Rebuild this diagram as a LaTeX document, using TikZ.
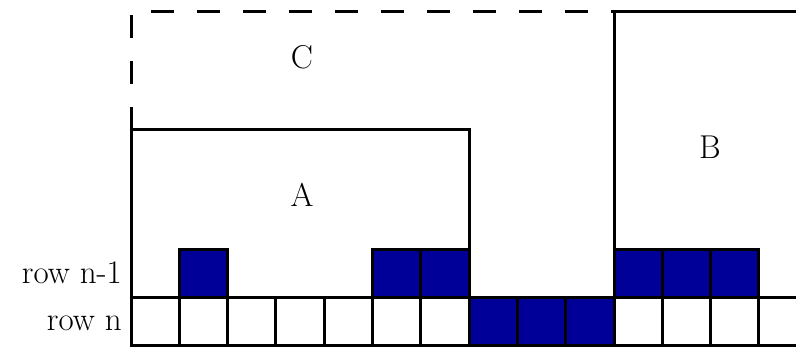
\documentclass[tikz,border=0pt]{standalone}
\definecolor{cellblue}{RGB}{0,0,153}
\tikzset{
  wall/.style={draw=black, line width=3pt},
  cellbox/.style={draw=black, line width=3pt},
  filled/.style={cellbox, fill=cellblue},
  lbl/.style={font=\fontsize{33}{38}\selectfont, inner sep=0pt}
}
\begin{document}
\begin{tikzpicture}[x=1pt,y=1pt]
  \useasboundingbox (0,0) rectangle (796,347);
  \clip (0,0) rectangle (796,347);
  % grid geometry: column width, left edge
  \def\cw{48.3}
  \def\xo{131}
  % row n: fourteen outlined cells, three of them filled
  \foreach \i in {0,...,13}{
    \draw[cellbox] ({\xo+\i*\cw},1.5) rectangle ({\xo+(\i+1)*\cw},49);
  }
  \foreach \i in {7,8,9}{
    \draw[filled] ({\xo+\i*\cw},1.5) rectangle ({\xo+(\i+1)*\cw},49);
  }
  % row n-1: filled cells only
  \foreach \i in {1,5,6,10,11,12}{
    \draw[filled] ({\xo+\i*\cw},49) rectangle ({\xo+(\i+1)*\cw},97);
  }
  % blocks A and B
  \draw[wall] (\xo,1.5) -- (\xo,217) -- ({\xo+7*\cw},217) -- ({\xo+7*\cw},49);
  \draw[wall] ({\xo+10*\cw},49) -- ({\xo+10*\cw},335) -- (820,335);
  % block C, outlined dashed
  \draw[wall, dash pattern=on 23pt off 23pt] (\xo,217) -- (\xo,335) -- ({\xo+10*\cw},335);
  % labels
  \node[lbl] (lc) at (302,290) {C};
  \node[lbl] (la) at (302,152) {A};
  \node[lbl] (lb) at (710,200) {B};
  \node[lbl, anchor=east] (r1) at (122,74) {row n-1};
  \node[lbl, anchor=east] (r0) at (122,24) {row n};
\end{tikzpicture}
\end{document}
